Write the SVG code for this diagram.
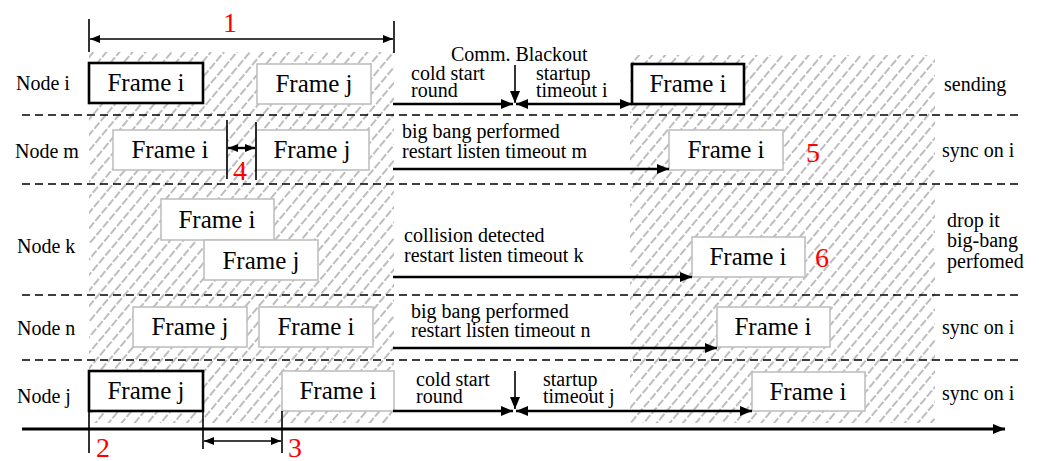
<svg xmlns="http://www.w3.org/2000/svg" width="1039" height="461" viewBox="0 0 1039 461">
<style>
text{font-family:'Liberation Serif','Tinos','DejaVu Serif',serif}
.lbl{font-size:20px;fill:#000}
.ft{font-size:25px;fill:#000;text-anchor:middle}
.red{font-size:28px;fill:#ff0000}
.fg{fill:#fff;stroke:#c0c0c0;stroke-width:1.6}
.fb{fill:#fff;stroke:#000;stroke-width:2.6}
.sep{stroke:#000;stroke-width:1.6;stroke-dasharray:8 5;fill:none}
.ln{stroke:#000;stroke-width:2.4;fill:none}
.tk{stroke:#000;stroke-width:1.6;fill:none}
</style>
<defs>
<pattern id="hatch" width="10" height="10" patternUnits="userSpaceOnUse" patternTransform="rotate(40)">
<line x1="5" y1="0" x2="5" y2="10" stroke="#9a9a9a" stroke-width="1.3" stroke-dasharray="8 2"/>
</pattern>
<marker id="ah" viewBox="0 0 12 10" refX="12" refY="5" markerWidth="12" markerHeight="10" markerUnits="userSpaceOnUse" orient="auto-start-reverse">
<path d="M0,0 L12,5 L0,10 z" fill="#000"/>
</marker>
<marker id="as" viewBox="0 0 10 8" refX="10" refY="4" markerWidth="10" markerHeight="8" markerUnits="userSpaceOnUse" orient="auto-start-reverse">
<path d="M0,0 L10,4 L0,8 z" fill="#000"/>
</marker>
</defs>
<rect width="1039" height="461" fill="#fff"/>
<g id="hatched">
<rect x="89" y="52" width="305" height="371" fill="url(#hatch)"/>
<rect x="630" y="55" width="305" height="368" fill="url(#hatch)"/>
</g>
<g id="separators">
<line class="sep" x1="22" y1="115" x2="1020" y2="115"/>
<line class="sep" x1="22" y1="184" x2="1020" y2="184"/>
<line class="sep" x1="22" y1="295" x2="1020" y2="295"/>
<line class="sep" x1="22" y1="360" x2="1020" y2="360"/>
</g>
<g id="row-labels">
<text class="lbl" x="16" y="90">Node i</text>
<text class="lbl" x="15" y="158">Node m</text>
<text class="lbl" x="17" y="253">Node k</text>
<text class="lbl" x="17" y="335">Node n</text>
<text class="lbl" x="17" y="403">Node j</text>
<text class="lbl" x="944" y="91">sending</text>
<text class="lbl" x="942" y="157">sync on i</text>
<text class="lbl" x="947" y="227">drop it</text>
<text class="lbl" x="947" y="247">big-bang</text>
<text class="lbl" x="947" y="268">perfomed</text>
<text class="lbl" x="942" y="334">sync on i</text>
<text class="lbl" x="942" y="400">sync on i</text>
</g>
<g id="node-i-frame-i-1"><rect class="fb" x="89" y="63" width="114" height="40"/><text class="ft" x="146" y="91">Frame i</text></g>
<g id="node-i-frame-j"><rect class="fg" x="257" y="64" width="114" height="40"/><text class="ft" x="314" y="92">Frame j</text></g>
<g id="node-i-frame-i-2"><rect class="fb" x="632" y="64" width="112" height="40"/><text class="ft" x="688" y="92">Frame i</text></g>
<g id="node-m-frame-i-1"><rect class="fg" x="113" y="130" width="114" height="40"/><text class="ft" x="170" y="158">Frame i</text></g>
<g id="node-m-frame-j"><rect class="fg" x="256" y="130" width="113" height="40"/><text class="ft" x="312" y="158">Frame j</text></g>
<g id="node-m-frame-i-2"><rect class="fg" x="669" y="130" width="114" height="40"/><text class="ft" x="726" y="158">Frame i</text></g>
<g id="node-k-frame-i-1"><rect class="fg" x="161" y="199" width="113" height="41"/><text class="ft" x="217" y="228">Frame i</text></g>
<g id="node-k-frame-j"><rect class="fg" x="204" y="240" width="114" height="40"/><text class="ft" x="261" y="269">Frame j</text></g>
<g id="node-k-frame-i-2"><rect class="fg" x="692" y="237" width="113" height="40"/><text class="ft" x="748" y="265">Frame i</text></g>
<g id="node-n-frame-j"><rect class="fg" x="133" y="307" width="114" height="40"/><text class="ft" x="190" y="335">Frame j</text></g>
<g id="node-n-frame-i-1"><rect class="fg" x="259" y="307" width="114" height="40"/><text class="ft" x="316" y="335">Frame i</text></g>
<g id="node-n-frame-i-2"><rect class="fg" x="717" y="307" width="113" height="40"/><text class="ft" x="773" y="335">Frame i</text></g>
<g id="node-j-frame-j"><rect class="fb" x="89" y="371" width="114" height="40"/><text class="ft" x="146" y="399">Frame j</text></g>
<g id="node-j-frame-i-1"><rect class="fg" x="282" y="371" width="112" height="40"/><text class="ft" x="338" y="399">Frame i</text></g>
<g id="node-j-frame-i-2"><rect class="fg" x="752" y="372" width="113" height="39"/><text class="ft" x="808" y="400">Frame i</text></g>
<g id="connectors">
<line class="tk" x1="89" y1="19" x2="89" y2="52"/>
<line class="tk" x1="394" y1="21" x2="394" y2="53"/>
<line class="tk" x1="90" y1="39" x2="393" y2="39" marker-start="url(#as)" marker-end="url(#as)"/>
<line class="ln" x1="393" y1="104" x2="513" y2="104" marker-end="url(#ah)"/>
<line class="tk" x1="515" y1="65" x2="515" y2="103" marker-end="url(#ah)"/>
<line class="ln" x1="516" y1="104" x2="632" y2="104" marker-start="url(#ah)" marker-end="url(#ah)"/>
<line class="tk" x1="227" y1="120" x2="227" y2="179"/>
<line class="tk" x1="256" y1="122" x2="256" y2="180"/>
<line class="ln" x1="228" y1="148" x2="255" y2="148" marker-start="url(#as)" marker-end="url(#as)"/>
<line class="ln" x1="393" y1="169" x2="669" y2="169" marker-end="url(#ah)"/>
<line class="ln" x1="393" y1="277" x2="692" y2="277" marker-end="url(#ah)"/>
<line class="ln" x1="393" y1="348" x2="717" y2="348" marker-end="url(#ah)"/>
<line class="ln" x1="393" y1="411" x2="513" y2="411" marker-end="url(#ah)"/>
<line class="tk" x1="515" y1="371" x2="515" y2="409" marker-end="url(#ah)"/>
<line class="ln" x1="516" y1="411" x2="752" y2="411" marker-start="url(#ah)" marker-end="url(#ah)"/>
<line x1="22" y1="429" x2="1005" y2="429" stroke="#000" stroke-width="3" marker-end="url(#ah)"/>
<line class="tk" x1="89" y1="411" x2="89" y2="453"/>
<line class="tk" x1="203" y1="411" x2="203" y2="449"/>
<line class="tk" x1="282" y1="411" x2="282" y2="453"/>
<line class="tk" x1="204" y1="441" x2="281" y2="441" marker-start="url(#as)" marker-end="url(#as)"/>
</g>
<g id="connector-labels">
<text class="lbl" x="451" y="61">Comm. Blackout</text>
<text class="lbl" x="411" y="80">cold start</text>
<text class="lbl" x="411" y="97">round</text>
<text class="lbl" x="536" y="80">startup</text>
<text class="lbl" x="536" y="97">timeout i</text>
<text class="lbl" x="402" y="138">big bang performed</text>
<text class="lbl" x="402" y="158">restart listen timeout m</text>
<text class="lbl" x="404" y="242">collision detected</text>
<text class="lbl" x="404" y="262">restart listen timeout k</text>
<text class="lbl" x="411" y="318">big bang performed</text>
<text class="lbl" x="411" y="337">restart listen timeout n</text>
<text class="lbl" x="416" y="386">cold start</text>
<text class="lbl" x="416" y="403">round</text>
<text class="lbl" x="543" y="386">startup</text>
<text class="lbl" x="543" y="403">timeout j</text>
</g>
<g id="markers-red">
<text class="red" x="223" y="32">1</text>
<text class="red" x="96" y="457">2</text>
<text class="red" x="288" y="457">3</text>
<text class="red" x="233" y="180">4</text>
<text class="red" x="806" y="162">5</text>
<text class="red" x="815" y="267">6</text>
</g>
</svg>
